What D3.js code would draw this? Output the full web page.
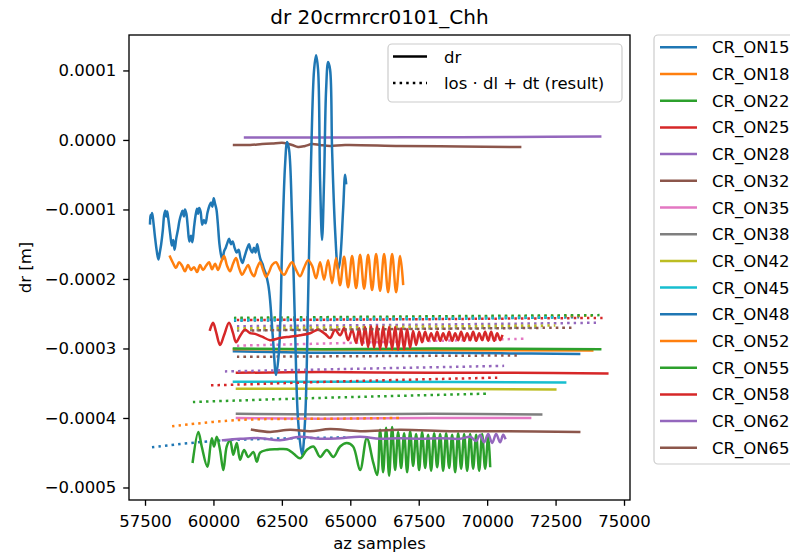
<!DOCTYPE html>
<html>
<head>
<meta charset="utf-8">
<script src="https://cdn.jsdelivr.net/npm/d3@7"></script>
<style>
  body { margin: 0; background: #fff; }
  svg { font-family: "DejaVu Sans", sans-serif; display: block; }
</style>
</head>
<body>
<svg id="chart" width="790" height="556"></svg>
<script>
/* data: [az sample, dr in metres] */
var crNames = ["CR_ON15", "CR_ON18", "CR_ON22", "CR_ON25", "CR_ON28", "CR_ON32", "CR_ON35", "CR_ON38",
               "CR_ON42", "CR_ON45", "CR_ON48", "CR_ON52", "CR_ON55", "CR_ON58", "CR_ON62", "CR_ON65"];
var xTicks = [57500, 60000, 62500, 65000, 67500, 70000, 72500, 75000];
var yTicks = [-0.0005, -0.0004, -0.0003, -0.0002, -0.0001, 0.0, 0.0001];

var dr15 = [[60750,-3.04e-4],[63500,-3.06e-4],[67000,-3.06e-4],[70500,-3.07e-4],[73360,-3.08e-4]];
var res15 = [[60750,-2.60e-4],[67000,-2.58e-4],[73360,-2.55e-4]];
var dr18 = [[60750,-3.01e-4],[67000,-3.02e-4],[73840,-3.03e-4]];
var res18 = [[60750,-2.57e-4],[67000,-2.55e-4],[73840,-2.53e-4]];
var dr22 = [[60750,-3.00e-4],[64000,-3.01e-4],[68000,-3.00e-4],[74130,-3.01e-4]];
var res22 = [[60750,-2.56e-4],[67000,-2.54e-4],[74130,-2.52e-4]];
var dr25 = [[60860,-3.35e-4],[64000,-3.34e-4],[68000,-3.35e-4],[71000,-3.35e-4],[74390,-3.36e-4]];
var res25 = [[60860,-2.59e-4],[67000,-2.58e-4],[74220,-2.56e-4]];
var dr28 = [[61155,3.6e-6],[65000,3.5e-6],[68000,3.9e-6],[71000,4.4e-6],[74130,4.8e-6]];
var res28 = [[60860,-2.68e-4],[67000,-2.66e-4],[74020,-2.63e-4]];
var dr32 = [[60753,-7.2e-6],[61338,-7.2e-6],[61776,-5.8e-6],[62142,-5.0e-6],[62580,-4.3e-6],[62873,-7.2e-6],
            [63092,-1.01e-5],[63348,-8.6e-6],[63604,-5.8e-6],[63896,-7.2e-6],[64262,-8.6e-6],[64810,-7.2e-6],
            [66820,-8.6e-6],[69013,-9.4e-6],[71205,-1.01e-5]];
var res32 = [[60860,-3.12e-4],[66000,-3.11e-4],[71205,-3.10e-4]];
var dr35 = [[60860,-4.00e-4],[64000,-4.01e-4],[68000,-4.00e-4],[71570,-4.00e-4]];
var res35 = [[60860,-2.96e-4],[66000,-2.91e-4],[71430,-2.86e-4]];
var dr38 = [[60860,-3.94e-4],[64000,-3.95e-4],[68000,-3.94e-4],[71975,-3.95e-4]];
var res38 = [[60860,-2.74e-4],[66000,-2.72e-4],[71975,-2.70e-4]];
var dr42 = [[60860,-3.58e-4],[66000,-3.58e-4],[72490,-3.59e-4]];
var res42 = [[60860,-2.71e-4],[66000,-2.69e-4],[72490,-2.67e-4]];
var dr45 = [[60750,-3.48e-4],[66000,-3.48e-4],[72850,-3.49e-4]];
var res45 = [[60750,-2.59e-4],[66000,-2.57e-4],[72850,-2.55e-4]];

var dr48 = [[57683,-1.20e-4],[57700,-1.08e-4],[57730,-1.12e-4],[57760,-1.05e-4],[57800,-1.16e-4],[57860,-1.38e-4],
            [57930,-1.60e-4],[57990,-1.72e-4],[58040,-1.62e-4],[58090,-1.50e-4],[58150,-1.30e-4],[58200,-1.08e-4],
            [58240,-1.02e-4],[58275,-1.10e-4],[58310,-1.03e-4],[58350,-1.13e-4],[58420,-1.35e-4],[58480,-1.52e-4],
            [58530,-1.44e-4],[58580,-1.58e-4],[58640,-1.42e-4],[58700,-1.30e-4],[58760,-1.16e-4],[58820,-1.07e-4],
            [58870,-1.02e-4],[58920,-1.10e-4],[58960,-1.00e-4],[59010,-1.06e-4],[59060,-1.24e-4],[59120,-1.46e-4],
            [59180,-1.38e-4],[59230,-1.47e-4],[59290,-1.26e-4],[59350,-1.08e-4],[59400,-0.99e-4],[59440,-1.06e-4],
            [59480,-0.98e-4],[59530,-1.03e-4],[59590,-1.22e-4],[59650,-1.15e-4],[59710,-1.20e-4],[59780,-1.05e-4],
            [59850,-0.95e-4],[59910,-0.90e-4],[59960,-0.96e-4],[60010,-0.84e-4],[60060,-0.92e-4],[60110,-1.00e-4],
            [60160,-1.20e-4],[60220,-1.50e-4],[60280,-1.66e-4],[60330,-1.72e-4],[60390,-1.60e-4],[60450,-1.55e-4],
            [60510,-1.48e-4],[60570,-1.42e-4],[60640,-1.50e-4],[60700,-1.46e-4],[60780,-1.56e-4],[60850,-1.62e-4],
            [60920,-1.58e-4],[60990,-1.70e-4],[61060,-1.77e-4],[61120,-1.70e-4],[61180,-1.62e-4],[61240,-1.55e-4],
            [61300,-1.50e-4],[61360,-1.58e-4],[61420,-1.62e-4],[61480,-1.55e-4],[61540,-1.62e-4],[61600,-1.50e-4],
            [61660,-1.62e-4],[61720,-1.72e-4],[61790,-1.78e-4],[61850,-1.86e-4],[61910,-1.92e-4],[61960,-2.00e-4],
            [62010,-2.10e-4],[62069,-2.30e-4],[62178,-2.88e-4],[62288,-3.38e-4],[62398,-3.02e-4],
            [62507,-1.58e-4],[62617,-0.36e-4],[62690,-0.03e-4],[62763,-0.14e-4],[62873,-1.15e-4],[62983,-2.73e-4],
            [63092,-4.03e-4],[63238,-4.53e-4],[63348,-4.03e-4],[63458,-2.30e-4],[63567,-0.29e-4],[63677,1.01e-4],
            [63750,1.22e-4],[63823,1.01e-4],[63896,-0.58e-4],[63969,-1.44e-4],[64042,-0.58e-4],[64116,0.72e-4],
            [64189,1.12e-4],[64262,1.01e-4],[64335,-0.14e-4],[64445,-1.30e-4],[64554,-1.87e-4],[64627,-1.73e-4],
            [64737,-1.01e-4],[64810,-0.50e-4],[64847,-0.62e-4]];
var res48 = [[57755,-4.42e-4],[60000,-4.33e-4],[62000,-4.30e-4],[64850,-4.28e-4]];

var dr52 = [[58414,-1.68e-4],[58524,-1.77e-4],[58633,-1.84e-4],[58743,-1.76e-4],[58852,-1.81e-4],[58962,-1.89e-4],
            [59072,-1.80e-4],[59181,-1.87e-4],[59291,-1.83e-4],[59401,-1.90e-4],[59510,-1.80e-4],[59620,-1.87e-4],
            [59730,-1.81e-4],[59839,-1.76e-4],[59949,-1.86e-4],[60059,-1.78e-4],[60168,-1.87e-4],[60278,-1.76e-4],
            [60388,-1.67e-4],[60497,-1.81e-4],[60607,-1.89e-4],[60716,-1.78e-4],[60826,-1.70e-4],[60936,-1.84e-4],
            [61045,-1.94e-4],[61155,-1.87e-4],[61265,-1.80e-4],[61374,-1.90e-4],[61484,-1.96e-4],[61594,-1.84e-4],
            [61703,-1.76e-4],[61813,-1.87e-4],[61923,-1.97e-4],[62032,-1.90e-4],[62142,-1.80e-4],[62288,-1.76e-4],
            [62434,-1.87e-4],[62580,-1.94e-4],[62727,-1.84e-4],[62873,-1.76e-4],[63019,-1.87e-4],[63165,-1.96e-4],
            [63311,-1.84e-4],[63458,-1.73e-4],[63604,-1.81e-4],[63750,-1.99e-4],[63896,-1.76e-4],[64042,-2.01e-4],
            [64189,-1.73e-4],[64335,-2.06e-4],[64481,-1.70e-4],[64627,-2.09e-4],[64774,-1.68e-4],[64920,-2.12e-4],
            [65066,-1.67e-4],[65212,-2.13e-4],[65358,-1.65e-4],[65505,-2.14e-4],[65651,-1.65e-4],[65797,-2.16e-4],
            [65943,-1.64e-4],[66089,-2.17e-4],[66235,-1.64e-4],[66381,-2.19e-4],[66528,-1.64e-4],[66674,-2.19e-4],
            [66820,-1.67e-4],[66930,-2.07e-4]];
var res52 = [[58490,-4.12e-4],[60860,-4.03e-4],[64600,-4.01e-4],[66920,-4.00e-4]];

var dr55 = [[59243,-4.63e-4],[59448,-4.20e-4],[59572,-4.41e-4],[59777,-4.70e-4],[59938,-4.29e-4],[60022,-4.41e-4],
            [60121,-4.27e-4],[60241,-4.46e-4],[60362,-4.75e-4],[60486,-4.41e-4],[60607,-4.32e-4],[60727,-4.53e-4],
            [60852,-4.36e-4],[60972,-4.60e-4],[61118,-4.46e-4],[61276,-4.56e-4],[61458,-4.49e-4],[61583,-4.63e-4],
            [61703,-4.50e-4],[61948,-4.46e-4],[62314,-4.45e-4],[62679,-4.45e-4],[62920,-4.51e-4],[63165,-4.58e-4],
            [63410,-4.46e-4],[63651,-4.41e-4],[63896,-4.56e-4],[64141,-4.46e-4],[64383,-4.56e-4],[64627,-4.41e-4],
            [64872,-4.36e-4],[65102,-4.41e-4],[65358,-4.75e-4],[65603,-4.29e-4],[65844,-4.65e-4],[65980,-4.82e-4],
            [66089,-4.17e-4],[66199,-4.78e-4],[66309,-4.14e-4],[66418,-4.83e-4],[66528,-4.13e-4],[66638,-4.75e-4],
            [66747,-4.20e-4],[66857,-4.72e-4],[66966,-4.22e-4],[67076,-4.78e-4],[67186,-4.19e-4],[67295,-4.69e-4],
            [67405,-4.23e-4],[67515,-4.75e-4],[67624,-4.20e-4],[67734,-4.72e-4],[67844,-4.24e-4],[67953,-4.76e-4],
            [68063,-4.22e-4],[68173,-4.71e-4],[68282,-4.23e-4],[68392,-4.76e-4],[68502,-4.22e-4],[68611,-4.72e-4],
            [68721,-4.24e-4],[68831,-4.78e-4],[68940,-4.22e-4],[69050,-4.73e-4],[69159,-4.23e-4],[69269,-4.76e-4],
            [69379,-4.23e-4],[69488,-4.73e-4],[69598,-4.24e-4],[69708,-4.76e-4],[69817,-4.23e-4],[69927,-4.73e-4],
            [70037,-4.26e-4],[70110,-4.69e-4]];
var res55 = [[59250,-3.77e-4],[64000,-3.71e-4],[70040,-3.65e-4]];

var dr58 = [[59876,-2.73e-4],[59985,-2.63e-4],[60095,-2.76e-4],[60241,-2.95e-4],[60387,-2.81e-4],[60570,-2.63e-4],
            [60716,-2.78e-4],[60826,-2.91e-4],[60972,-2.82e-4],[61155,-2.73e-4],[61338,-2.78e-4],[61521,-2.79e-4],
            [61776,-2.83e-4],[62069,-2.88e-4],[62434,-2.85e-4],[62800,-2.83e-4],[63165,-2.81e-4],[63531,-2.78e-4],
            [63823,-2.73e-4],[64079,-2.79e-4],[64262,-2.85e-4],[64445,-2.73e-4],[64627,-2.81e-4],[64774,-2.71e-4],
            [64920,-2.88e-4],[65066,-2.73e-4],[65212,-2.92e-4],[65322,-2.71e-4],[65431,-2.95e-4],[65541,-2.69e-4],
            [65651,-2.98e-4],[65760,-2.68e-4],[65870,-2.99e-4],[65980,-2.68e-4],[66089,-3.01e-4],[66199,-2.69e-4],
            [66309,-2.99e-4],[66418,-2.69e-4],[66528,-3.01e-4],[66638,-2.69e-4],[66747,-3.02e-4],[66857,-2.71e-4],
            [66966,-3.01e-4],[67076,-2.72e-4],[67186,-2.99e-4],[67295,-2.75e-4],[67405,-2.95e-4],[67515,-2.76e-4],
            [67624,-2.91e-4],[67734,-2.76e-4],[67844,-2.89e-4],[67953,-2.78e-4],[68063,-2.89e-4],[68173,-2.76e-4],
            [68282,-2.89e-4],[68392,-2.78e-4],[68502,-2.88e-4],[68611,-2.76e-4],[68721,-2.89e-4],[68831,-2.78e-4],
            [68940,-2.88e-4],[69050,-2.76e-4],[69159,-2.89e-4],[69269,-2.78e-4],[69379,-2.88e-4],[69488,-2.76e-4],
            [69598,-2.89e-4],[69708,-2.78e-4],[69817,-2.88e-4],[69927,-2.76e-4],[70037,-2.89e-4],[70146,-2.76e-4],
            [70256,-2.89e-4],[70366,-2.78e-4],[70475,-2.88e-4],[70548,-2.82e-4]];
var res58 = [[59910,-3.53e-4],[60860,-3.52e-4],[65000,-3.47e-4],[70370,-3.42e-4]];

var dr62 = [[60351,-4.32e-4],[60972,-4.30e-4],[61703,-4.29e-4],[62434,-4.32e-4],[63165,-4.27e-4],[63896,-4.30e-4],
            [64627,-4.29e-4],[65358,-4.27e-4],[66089,-4.30e-4],[66820,-4.29e-4],[67551,-4.30e-4],[68282,-4.29e-4],
            [69013,-4.30e-4],[69379,-4.27e-4],[69598,-4.33e-4],[69744,-4.24e-4],[69890,-4.35e-4],[70037,-4.23e-4],
            [70183,-4.36e-4],[70329,-4.23e-4],[70475,-4.35e-4],[70585,-4.24e-4],[70658,-4.29e-4]];
var res62 = [[60420,-3.33e-4],[65500,-3.29e-4],[70620,-3.25e-4]];

var dr65 = [[61411,-4.17e-4],[62069,-4.20e-4],[62800,-4.17e-4],[63531,-4.19e-4],[64262,-4.16e-4],[65358,-4.19e-4],
            [66820,-4.17e-4],[68648,-4.19e-4],[70475,-4.19e-4],[73363,-4.20e-4]];
var res65 = [[61410,-2.74e-4],[67000,-2.72e-4],[73140,-2.70e-4]];

var drSeries = [dr15, dr18, dr22, dr25, dr28, dr32, dr35, dr38, dr42, dr45, dr48, dr52, dr55, dr58, dr62, dr65];
var resSeries = [res15, res18, res22, res25, res28, res32, res35, res38, res42, res45, res48, res52, res55, res58, res62, res65];

/* matplotlib tab10 */
var color = d3.scaleOrdinal(d3.schemeCategory10).domain(crNames);

var svg = d3.select("#chart");
var axLeft = 129, axRight = 630, axTop = 35, axBottom = 500;

var x = d3.scaleLinear().domain([56915, 75219]).range([axLeft, axRight]);
var y = d3.scaleLinear().domain([-0.000518, 0.000151]).range([axBottom, axTop]);

svg.append("defs").append("clipPath").attr("id", "clip")
  .append("rect").attr("x", axLeft).attr("y", axTop).attr("width", axRight - axLeft).attr("height", axBottom - axTop);

var line = d3.line()
  .x(function(d) { return x(d[0]); })
  .y(function(d) { return y(d[1]); })
  .curve(d3.curveCatmullRom.alpha(0.5));

var plot = svg.append("g").attr("clip-path", "url(#clip)");

/* per reflector: dr solid, result dotted */
crNames.forEach(function(name, i) {
  plot.append("path")
    .attr("d", line(drSeries[i]))
    .attr("fill", "none")
    .attr("stroke", color(name))
    .attr("stroke-width", 2.5)
    .attr("stroke-linejoin", "round")
    .attr("stroke-linecap", "square");
  plot.append("path")
    .attr("d", line(resSeries[i]))
    .attr("fill", "none")
    .attr("stroke", color(name))
    .attr("stroke-width", 2.5)
    .attr("stroke-dasharray", "2.5,4.1");
});

/* axes */
var xAxis = svg.append("g")
  .attr("transform", "translate(0," + axBottom + ")")
  .call(d3.axisBottom(x).tickValues(xTicks).tickSize(5.8).tickPadding(9).tickFormat(d3.format("d")));
var yAxis = svg.append("g")
  .attr("transform", "translate(" + axLeft + ",0)")
  .call(d3.axisLeft(y).tickValues(yTicks).tickSize(5.8).tickPadding(7).tickFormat(d3.format(".4f")));

[xAxis, yAxis].forEach(function(a) {
  a.select(".domain").remove();
  a.selectAll("line").attr("stroke", "#000").attr("stroke-width", 1.33);
  a.selectAll("text").attr("fill", "#000").style("font-size", "16.5px").style("font-family", "DejaVu Sans");
});

svg.append("rect")
  .attr("x", axLeft).attr("y", axTop)
  .attr("width", axRight - axLeft).attr("height", axBottom - axTop)
  .attr("fill", "none").attr("stroke", "#000").attr("stroke-width", 1.33);

/* labels */
svg.append("text")
  .attr("x", (axLeft + axRight) / 2).attr("y", 24)
  .attr("text-anchor", "middle")
  .style("font-size", "20px")
  .text("dr 20crmrcr0101_Chh");

svg.append("text")
  .attr("x", (axLeft + axRight) / 2).attr("y", 549)
  .attr("text-anchor", "middle")
  .style("font-size", "16.5px")
  .text("az samples");

svg.append("text")
  .attr("transform", "translate(31," + (axTop + axBottom) / 2 + ") rotate(-90)")
  .attr("text-anchor", "middle")
  .style("font-size", "16.5px")
  .text("dr [m]");

/* legend for line styles */
var styleLegend = svg.append("g");
styleLegend.append("rect")
  .attr("x", 388).attr("y", 44).attr("width", 234).attr("height", 58).attr("rx", 4)
  .attr("fill", "#fff").attr("fill-opacity", 0.8)
  .attr("stroke", "#ccc").attr("stroke-width", 1.2);
var styleItems = [{label: "dr", dash: null}, {label: "los \u00b7 dl + dt (result)", dash: "2.5,4.1"}];
styleItems.forEach(function(d, i) {
  var cy = 56.5 + i * 26.5;
  styleLegend.append("line")
    .attr("x1", 393).attr("x2", 427).attr("y1", cy).attr("y2", cy)
    .attr("stroke", "#000").attr("stroke-width", 2.5)
    .attr("stroke-dasharray", d.dash);
  styleLegend.append("text")
    .attr("x", 444).attr("y", cy + 6)
    .style("font-size", "16.5px")
    .text(d.label);
});

/* legend for reflectors, outside the axes */
var crLegend = svg.append("g");
crLegend.append("rect")
  .attr("x", 654).attr("y", 35).attr("width", 200).attr("height", 429).attr("rx", 4)
  .attr("fill", "#fff").attr("stroke", "#ccc").attr("stroke-width", 1.2);
crNames.forEach(function(name, i) {
  var cy = 47.3 + i * 26.7;
  crLegend.append("line")
    .attr("x1", 660).attr("x2", 697).attr("y1", cy).attr("y2", cy)
    .attr("stroke", color(name)).attr("stroke-width", 2.5);
  crLegend.append("text")
    .attr("x", 712).attr("y", cy + 6)
    .style("font-size", "16.5px")
    .text(name);
});
</script>
</body>
</html>
